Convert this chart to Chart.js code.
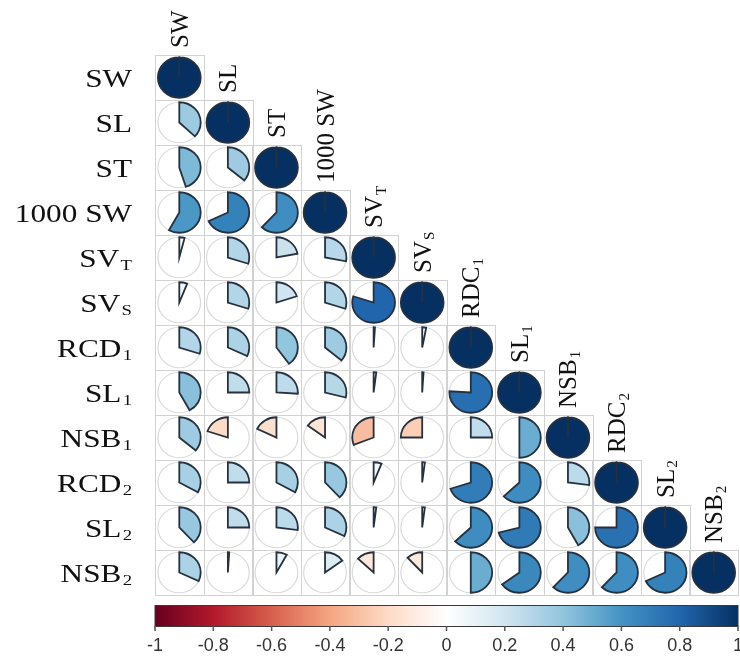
<!DOCTYPE html>
<html>
<head>
<meta charset="utf-8">
<script src="https://cdn.jsdelivr.net/npm/chart.js@4.4.0/dist/chart.umd.min.js"></script>
<style>
  html, body { margin: 0; padding: 0; background: #fff; overflow: hidden; }
  canvas { display: block; }
</style>
</head>
<body>
<canvas id="corrChart" width="740" height="663"></canvas>
<script>
// libellés [texte, indice]
const rowLabels = [['SW',''],['SL',''],['ST',''],['1000 SW',''],['SV','T'],['SV','S'],['RCD','1'],['SL','1'],['NSB','1'],['RCD','2'],['SL','2'],['NSB','2']];
const colLabels = [['SW',''],['SL',''],['ST',''],['1000 SW',''],['SV','T'],['SV','S'],['RDC','1'],['SL','1'],['NSB','1'],['RDC','2'],['SL','2'],['NSB','2']];

// corrélations (triangle inférieur, ligne par ligne)
const cSW    = [1];
const cSL    = [0.37, 1];
const cST    = [0.45, 0.36, 1];
const c1000SW = [0.58, 0.68, 0.62, 1];
const cSVT   = [0.04, 0.30, 0.22, 0.28, 1];
const cSVS   = [0.06, 0.30, 0.20, 0.30, 0.80, 1];
const cRCD1  = [0.30, 0.32, 0.40, 0.36, 0.01, 0.03, 1];
const cSL1   = [0.42, 0.25, 0.26, 0.29, 0.02, 0.01, 0.76, 1];
const cNSB1  = [0.36, -0.20, -0.18, -0.15, -0.31, -0.25, 0.25, 0.50, 1];
const cRCD2  = [0.33, 0.25, 0.33, 0.38, 0.06, 0.02, 0.70, 0.63, 0.27, 1];
const cSL2   = [0.38, 0.25, 0.27, 0.32, 0.02, 0.02, 0.63, 0.71, 0.42, 0.75, 1];
const cNSB2  = [0.32, 0.01, 0.08, 0.15, -0.13, -0.12, 0.50, 0.65, 0.62, 0.62, 0.68, 1];
const corrRows = [cSW, cSL, cST, c1000SW, cSVT, cSVS, cRCD1, cSL1, cNSB1, cRCD2, cSL2, cNSB2];

// barre de couleur
const cbTicks = [-1, -0.8, -0.6, -0.4, -0.2, 0, 0.2, 0.4, 0.6, 0.8, 1];
const rdbu = ['#67001F','#B2182B','#D6604D','#F4A582','#FDDBC7','#FFFFFF','#D1E5F0','#92C5DE','#4393C3','#2166AC','#053061'];

const points = [];
corrRows.forEach((row, i) => {
    row.forEach((v, j) => points.push({ x: j, y: i, v: v }));
});

function hexToRgb(h) {
    return [parseInt(h.slice(1,3),16), parseInt(h.slice(3,5),16), parseInt(h.slice(5,7),16)];
}
function corrColor(v) {
    const t = (v + 1) / 2 * (rdbu.length - 1);
    const i = Math.min(Math.floor(t), rdbu.length - 2);
    const f = t - i;
    const a = hexToRgb(rdbu[i]), b = hexToRgb(rdbu[i+1]);
    const c = a.map((x, k) => Math.round(x + (b[k] - x) * f));
    return 'rgb(' + c.join(',') + ')';
}

const serif = '"Liberation Serif", "Times New Roman", serif';
function labelWidth(ctx, lab, size) {
    ctx.font = size + 'px ' + serif;
    let w = ctx.measureText(lab[0]).width;
    if (lab[1]) {
        ctx.font = (size * 0.6) + 'px ' + serif;
        w += ctx.measureText(lab[1]).width + 1;
    }
    return w;
}
function drawLabel(ctx, lab, size, x, y) {
    ctx.textAlign = 'left';
    ctx.textBaseline = 'alphabetic';
    ctx.font = size + 'px ' + serif;
    ctx.fillText(lab[0], x, y);
    if (lab[1]) {
        const w = ctx.measureText(lab[0]).width;
        ctx.font = (size * 0.6) + 'px ' + serif;
        ctx.fillText(lab[1], x + w + 1, y + size * 0.15);
    }
}

// camemberts + grille + libellés
const corrPlugin = {
    id: 'corrPie',
    afterDatasetsDraw(chart) {
        const ctx = chart.ctx;
        const xs = chart.scales.x, ys = chart.scales.y;
        const w = xs.getPixelForValue(1) - xs.getPixelForValue(0);
        const h = ys.getPixelForValue(1) - ys.getPixelForValue(0);
        const rx = w * 0.44, ry = h * 0.45;
        const meta = chart.getDatasetMeta(0);
        ctx.save();

        // cases
        ctx.strokeStyle = '#d2d2d2';
        ctx.lineWidth = 1;
        meta.data.forEach(el => {
            ctx.strokeRect(Math.round(el.x - w / 2) + 0.5, Math.round(el.y - h / 2) + 0.5, Math.round(w), Math.round(h));
        });

        meta.data.forEach((el, k) => {
            const v = points[k].v;
            // cercle de fond
            ctx.beginPath();
            ctx.ellipse(el.x, el.y, rx, ry, 0, 0, Math.PI * 2);
            ctx.strokeStyle = '#dadada';
            ctx.lineWidth = 1.2;
            ctx.stroke();
            // secteur
            const start = -Math.PI / 2;
            const ang = Math.abs(v) * Math.PI * 2;
            ctx.beginPath();
            ctx.moveTo(el.x, el.y);
            ctx.ellipse(el.x, el.y, rx, ry, 0, start, v < 0 ? start - ang : start + ang, v < 0);
            ctx.closePath();
            ctx.fillStyle = corrColor(v);
            ctx.fill();
            ctx.strokeStyle = '#263140';
            ctx.lineWidth = 1.8;
            ctx.stroke();
        });

        // libellés des lignes
        ctx.fillStyle = '#111';
        const fs = 25;
        const xRight = chart.chartArea.left - 23;
        rowLabels.forEach((lab, i) => {
            const cy = ys.getPixelForValue(i);
            const lw = labelWidth(ctx, lab, fs);
            ctx.save();
            ctx.translate(xRight, cy + fs * 0.36);
            ctx.scale(1.25, 1);
            drawLabel(ctx, lab, fs, -lw, 0);
            ctx.restore();
        });

        // libellés des colonnes (sur la diagonale)
        colLabels.forEach((lab, j) => {
            const cx = xs.getPixelForValue(j);
            const top = ys.getPixelForValue(j) - h / 2;
            ctx.save();
            ctx.translate(cx + fs * 0.34, top - 7);
            ctx.rotate(-Math.PI / 2);
            drawLabel(ctx, lab, fs, 0, 0);
            ctx.restore();
        });
        ctx.restore();
    },
    afterDraw(chart) {
        const ctx = chart.ctx;
        const cb = chart.scales.cb;
        const x0 = cb.getPixelForValue(-1), x1 = cb.getPixelForValue(1);
        const y0 = cb.top + 10, y1 = cb.top + 31;
        const grad = ctx.createLinearGradient(x0, 0, x1, 0);
        rdbu.forEach((c, i) => grad.addColorStop(i / (rdbu.length - 1), c));
        ctx.save();
        ctx.fillStyle = grad;
        ctx.fillRect(x0, y0, x1 - x0, y1 - y0);
        ctx.strokeStyle = '#3a3a3a';
        ctx.lineWidth = 1;
        ctx.strokeRect(x0, y0 + 0.5, x1 - x0, y1 - y0);
        ctx.strokeStyle = '#555';
        ctx.lineWidth = 1.5;
        cbTicks.forEach(v => {
            const x = cb.getPixelForValue(v);
            ctx.beginPath();
            ctx.moveTo(x, y1);
            ctx.lineTo(x, y1 + 5);
            ctx.stroke();
        });
        ctx.restore();
    }
};

new Chart(document.getElementById('corrChart'), {
    type: 'scatter',
    data: {
        datasets: [{
            data: points,
            pointRadius: 0,
            pointHoverRadius: 0,
            pointHitRadius: 0
        }]
    },
    options: {
        responsive: false,
        animation: false,
        devicePixelRatio: 1,
        layout: { padding: { left: 155, right: 2, top: 55, bottom: 0 } },
        plugins: { legend: { display: false }, tooltip: { enabled: false } },
        scales: {
            x: { type: 'linear', min: -0.5, max: 11.5, display: false },
            y: { type: 'linear', min: -0.5, max: 11.5, reverse: true, display: false },
            cb: {
                type: 'linear',
                axis: 'x',
                position: 'bottom',
                min: -1,
                max: 1,
                grid: { display: false, drawTicks: false },
                border: { display: false },
                afterBuildTicks: s => { s.ticks = cbTicks.map(v => ({ value: v })); },
                afterFit: s => { s.height = 68; s.paddingLeft = 0; s.paddingRight = 0; },
                ticks: {
                    autoSkip: false,
                    maxRotation: 0,
                    padding: 40,
                    color: '#333',
                    font: { family: '"Liberation Sans", Arial, sans-serif', size: 18 },
                    callback: v => String(Math.round(v * 10) / 10)
                }
            }
        }
    },
    plugins: [corrPlugin]
});
</script>
</body>
</html>
